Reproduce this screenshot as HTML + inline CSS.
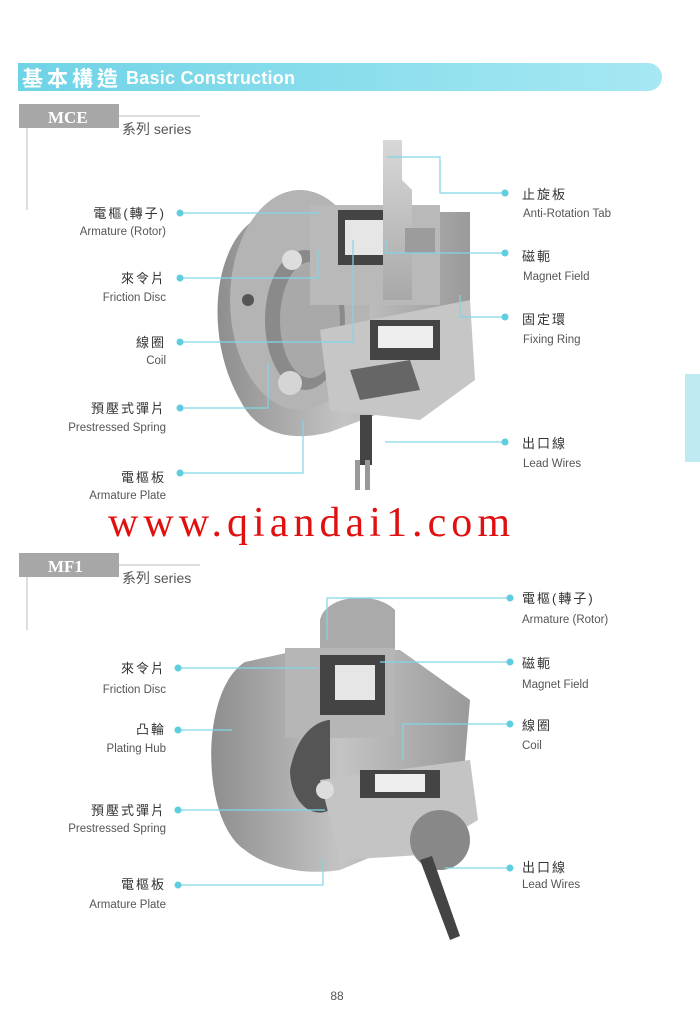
<!DOCTYPE html>
<html><head><meta charset="utf-8"><style>
html,body{margin:0;padding:0;background:#fff}
body{width:700px;height:1025px;position:relative;overflow:hidden;font-family:"Liberation Sans","Noto Sans CJK TC",sans-serif}
svg{position:absolute;left:0;top:0}
</style></head><body>
<svg width="700" height="1025" viewBox="0 0 700 1025" font-family="Liberation Sans, Noto Sans CJK TC, sans-serif">
<defs>
<linearGradient id="hb" x1="0" x2="1"><stop offset="0" stop-color="#6fd3e6"/><stop offset="1" stop-color="#a6e8f3"/></linearGradient>
<linearGradient id="g1" x1="0" x2="1"><stop offset="0" stop-color="#8e8e8e"/><stop offset="0.5" stop-color="#c4c4c4"/><stop offset="1" stop-color="#9a9a9a"/></linearGradient>
<linearGradient id="g2" x1="0" x2="0" y1="0" y2="1"><stop offset="0" stop-color="#d8d8d8"/><stop offset="1" stop-color="#a8a8a8"/></linearGradient>
</defs>
<path d="M18 63 H648 A14 14 0 0 1 648 91 H18 Z" fill="url(#hb)"/>
<text x="22" y="86" font-size="21" font-weight="bold" fill="#fff" textLength="96">基本構造</text>
<text x="126" y="84" font-size="18" font-weight="bold" fill="#fff" textLength="169">Basic Construction</text>
<rect x="685" y="374" width="15" height="88" fill="#bfeaf2"/>

<rect x="19" y="104" width="100" height="24" fill="#a7a7a7"/>
<text x="48" y="123" font-size="17" font-weight="bold" fill="#fff" font-family="Liberation Serif, serif">MCE</text>
<line x1="119" y1="116" x2="200" y2="116" stroke="#bbb"/>
<line x1="27" y1="128" x2="27" y2="210" stroke="#bbb"/>
<text x="122" y="134" font-size="14" fill="#555">系列 series</text>

<g>
<path d="M272 212 C215 225 200 330 240 400 C260 440 300 440 330 432 L470 380 L470 212 Z" fill="url(#g1)"/>
<ellipse cx="300" cy="300" rx="70" ry="110" fill="#b4b4b4"/>
<ellipse cx="305" cy="320" rx="40" ry="70" fill="#8a8a8a"/>
<ellipse cx="310" cy="320" rx="30" ry="58" fill="#a9a9a9"/>
<rect x="310" y="205" width="130" height="100" fill="#b9b9b9"/>
<rect x="338" y="210" width="62" height="55" fill="#444"/>
<rect x="345" y="220" width="40" height="35" fill="#e6e6e6"/>
<polygon points="383,140 402,140 402,180 412,190 412,300 383,300" fill="url(#g2)"/>
<rect x="405" y="228" width="30" height="25" fill="#9c9c9c"/>
<circle cx="292" cy="260" r="10" fill="#ddd"/>
<circle cx="248" cy="300" r="6" fill="#555"/>
<circle cx="290" cy="383" r="12" fill="#d5d5d5"/>
<polygon points="320,330 470,300 475,380 420,420 330,410" fill="#c6c6c6"/>
<rect x="370" y="320" width="70" height="40" fill="#444"/>
<rect x="378" y="326" width="55" height="22" fill="#eee"/>
<polygon points="350,370 410,360 420,390 360,400" fill="#666"/>
<rect x="360" y="415" width="12" height="50" fill="#444"/>
<rect x="355" y="460" width="5" height="30" fill="#999"/><rect x="365" y="460" width="5" height="30" fill="#999"/>
</g>

<g>
<path d="M320 620 C325 595 375 590 395 610 L395 680 L320 680 Z" fill="#aaa"/>
<path d="M245 662 C200 690 200 820 245 850 C270 870 310 875 340 870 L460 820 L470 700 L400 650 L300 650 Z" fill="url(#g1)"/>
<rect x="285" y="648" width="110" height="90" fill="#b6b6b6"/>
<rect x="320" y="655" width="65" height="60" fill="#444"/>
<rect x="335" y="665" width="40" height="35" fill="#e6e6e6"/>
<path d="M290 770 C300 720 330 720 330 720 L330 810 C310 820 290 800 290 770Z" fill="#555"/>
<polygon points="320,780 470,760 478,820 420,855 340,860" fill="#c4c4c4"/>
<rect x="360" y="770" width="80" height="28" fill="#444"/><rect x="375" y="774" width="50" height="18" fill="#eee"/>
<circle cx="325" cy="790" r="9" fill="#ddd"/>
<ellipse cx="440" cy="840" rx="30" ry="30" fill="#888"/>
<path d="M420 860 L450 940 L460 936 L432 856Z" fill="#444"/>
</g>

<text x="108" y="536" font-size="42" fill="#e01010" font-family="Liberation Serif, serif" textLength="402" lengthAdjust="spacing">www.qiandai1.com</text>

<rect x="19" y="553" width="100" height="24" fill="#a7a7a7"/>
<text x="48" y="572" font-size="17" font-weight="bold" fill="#fff" font-family="Liberation Serif, serif">MF1</text>
<line x1="119" y1="565" x2="200" y2="565" stroke="#bbb"/>
<line x1="27" y1="577" x2="27" y2="630" stroke="#bbb"/>
<text x="122" y="583" font-size="14" fill="#555">系列 series</text>

<g stroke="#7fd6e6" stroke-width="1.2" fill="none">
<polyline points="180,213 320,213"/>
<polyline points="180,278 318,278 318,250"/>
<polyline points="180,342 353,342 353,240"/>
<polyline points="180,408 268,408 268,363"/>
<polyline points="180,473 303,473 303,420"/>
<polyline points="505,193 440,193 440,157 387,157"/>
<polyline points="505,253 386,253 386,240"/>
<polyline points="505,317 460,317 460,295"/>
<polyline points="505,442 385,442"/>
<polyline points="178,668 318,668"/>
<polyline points="178,730 232,730"/>
<polyline points="178,810 325,810"/>
<polyline points="178,885 323,885 323,858"/>
<polyline points="510,598 327,598 327,640"/>
<polyline points="510,662 380,662"/>
<polyline points="510,724 403,724 403,760"/>
<polyline points="510,868 445,868"/>
</g>
<g fill="#5fcde0">
<circle cx="180" cy="213" r="3.5"/><circle cx="180" cy="278" r="3.5"/><circle cx="180" cy="342" r="3.5"/><circle cx="180" cy="408" r="3.5"/><circle cx="180" cy="473" r="3.5"/>
<circle cx="505" cy="193" r="3.5"/><circle cx="505" cy="253" r="3.5"/><circle cx="505" cy="317" r="3.5"/><circle cx="505" cy="442" r="3.5"/>
<circle cx="178" cy="668" r="3.5"/><circle cx="178" cy="730" r="3.5"/><circle cx="178" cy="810" r="3.5"/><circle cx="178" cy="885" r="3.5"/>
<circle cx="510" cy="598" r="3.5"/><circle cx="510" cy="662" r="3.5"/><circle cx="510" cy="724" r="3.5"/><circle cx="510" cy="868" r="3.5"/>
</g>

<g font-size="13" fill="#333" text-anchor="end">
<text x="166" y="218" letter-spacing="2">電樞(轉子)</text>
<text x="166" y="283" letter-spacing="2">來令片</text>
<text x="166" y="347" letter-spacing="2">線圈</text>
<text x="166" y="413" letter-spacing="2">預壓式彈片</text>
<text x="166" y="482" letter-spacing="2">電樞板</text>
<text x="166" y="673" letter-spacing="2">來令片</text>
<text x="166" y="734" letter-spacing="2">凸輪</text>
<text x="166" y="815" letter-spacing="2">預壓式彈片</text>
<text x="166" y="889" letter-spacing="2">電樞板</text>
</g>
<g font-size="11.5" fill="#555" text-anchor="end">
<text x="166" y="235">Armature (Rotor)</text>
<text x="166" y="301">Friction Disc</text>
<text x="166" y="364">Coil</text>
<text x="166" y="431">Prestressed Spring</text>
<text x="166" y="499">Armature Plate</text>
<text x="166" y="693">Friction Disc</text>
<text x="166" y="752">Plating Hub</text>
<text x="166" y="832">Prestressed Spring</text>
<text x="166" y="908">Armature Plate</text>
</g>
<g font-size="13" fill="#333" letter-spacing="2">
<text x="522" y="199">止旋板</text>
<text x="522" y="261">磁軛</text>
<text x="522" y="324">固定環</text>
<text x="522" y="448">出口線</text>
<text x="522" y="603">電樞(轉子)</text>
<text x="522" y="668">磁軛</text>
<text x="522" y="730">線圈</text>
<text x="522" y="872">出口線</text>
</g>
<g font-size="11.5" fill="#555">
<text x="523" y="217">Anti-Rotation Tab</text>
<text x="523" y="280">Magnet Field</text>
<text x="523" y="343">Fixing Ring</text>
<text x="523" y="467">Lead Wires</text>
<text x="522" y="623">Armature (Rotor)</text>
<text x="522" y="688">Magnet Field</text>
<text x="522" y="749">Coil</text>
<text x="522" y="888">Lead Wires</text>
</g>
<text x="337" y="1000" font-size="12" fill="#555" text-anchor="middle">88</text>
</svg>
</body></html>
